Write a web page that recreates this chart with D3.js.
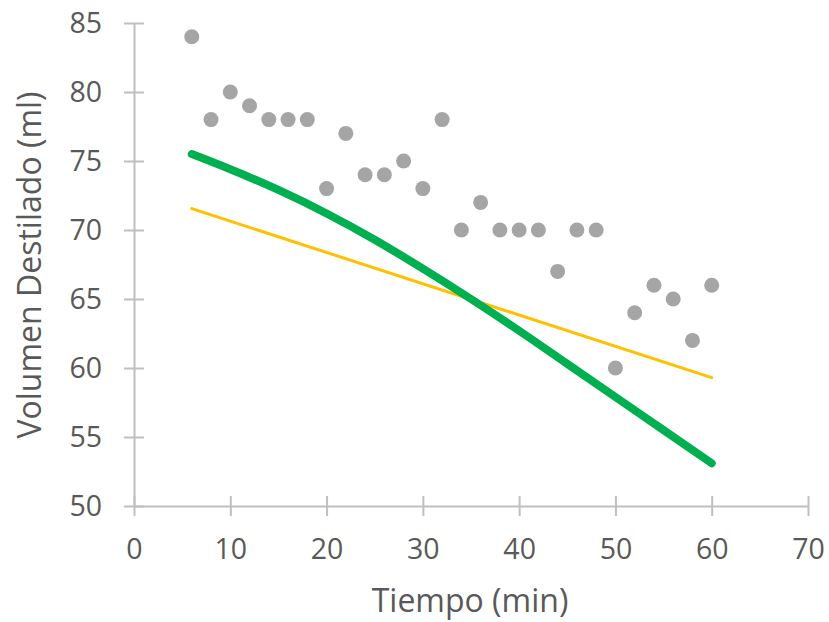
<!DOCTYPE html>
<html>
<head>
<meta charset="utf-8">
<script src="https://cdn.jsdelivr.net/npm/d3@7"></script>
<style>
  body { margin: 0; background: #fff; }
  svg text { font-family: "Open Sans", "Noto Sans", sans-serif; fill: #595959; }
</style>
</head>
<body>
<div class="graphContainer"></div>
<script>
// measured data (tiempo in min, volumen in ml)
var tiempo  = [6, 8, 10, 12, 14, 16, 18, 20, 22, 24, 26, 28, 30, 32, 34, 36, 38, 40, 42, 44, 46, 48, 50, 52, 54, 56, 58, 60];
var volumen = [84, 78, 80, 79, 78, 78, 78, 73, 77, 74, 74, 75, 73, 78, 70, 72, 70, 70, 70, 67, 70, 70, 60, 64, 66, 65, 62, 66];

// green fitted curve
var curvaX = [6, 10, 15, 20, 25, 30, 35, 40, 45, 50, 55, 60];
var curvaY = [75.5, 74.4, 72.9, 71.2, 69.3, 67.2, 65.0, 62.7, 60.3, 57.9, 55.5, 53.1];

// yellow straight trend line
var rectaX = [6, 60];
var rectaY = [71.55, 59.3];

var xTicks = [0, 10, 20, 30, 40, 50, 60, 70];
var yTicks = [50, 55, 60, 65, 70, 75, 80, 85];

function drawChart() {
  var w = 829,
      h = 622;

  var x = d3.scaleLinear().domain([0, 70]).range([134, 808]);
  var y = d3.scaleLinear().domain([50, 85]).range([506, 23]);

  var svg = d3.select(".graphContainer")
    .append("svg")
    .attr("width", w)
    .attr("height", h);

  // axes: excel style crossing ticks
  var axisBottom = d3.axisBottom(x)
    .tickValues(xTicks)
    .tickSizeInner(0)
    .tickSizeOuter(0)
    .tickPadding(33);

  var axisLeft = d3.axisLeft(y)
    .tickValues(yTicks)
    .tickSizeInner(0)
    .tickSizeOuter(0)
    .tickPadding(32);

  var gx = svg.append("g")
    .attr("transform", "translate(0," + y(50) + ")")
    .call(axisBottom);

  var gy = svg.append("g")
    .attr("transform", "translate(" + x(0) + ",0)")
    .call(axisLeft);

  [gx, gy].forEach(function (g) {
    g.select(".domain").attr("stroke", "#bfbfbf").attr("stroke-width", 2);
    g.selectAll("text").attr("font-size", 28.5).attr("fill", "#595959");
  });

  gx.selectAll(".tick line").attr("y1", -10).attr("y2", 10)
    .attr("stroke", "#bfbfbf").attr("stroke-width", 2);
  gy.selectAll(".tick line").attr("x1", -10).attr("x2", 10)
    .attr("stroke", "#bfbfbf").attr("stroke-width", 2);

  // scatter points
  svg.append("g")
    .selectAll("circle")
    .data(tiempo)
    .enter()
      .append("circle")
        .attr("cx", function (d) { return x(d); })
        .attr("cy", function (d, i) { return y(volumen[i]); })
        .attr("r", 7.5)
        .attr("fill", "#a5a5a5");

  // yellow linear trend
  var line = d3.line()
    .x(function (d) { return x(d[0]); })
    .y(function (d) { return y(d[1]); });

  svg.append("path")
    .datum(d3.zip(rectaX, rectaY))
    .attr("d", line)
    .attr("fill", "none")
    .attr("stroke", "#ffc000")
    .attr("stroke-width", 3)
    .attr("stroke-linecap", "round");

  // green curved fit
  svg.append("path")
    .datum(d3.zip(curvaX, curvaY))
    .attr("d", line.curve(d3.curveMonotoneX))
    .attr("fill", "none")
    .attr("stroke", "#00b050")
    .attr("stroke-width", 8)
    .attr("stroke-linecap", "round");

  // axis titles
  svg.append("text")
    .attr("x", 470)
    .attr("y", 612)
    .attr("text-anchor", "middle")
    .attr("font-size", 32)
    .text("Tiempo (min)");

  svg.append("text")
    .attr("transform", "translate(41,265) rotate(-90)")
    .attr("text-anchor", "middle")
    .attr("font-size", 32)
    .text("Volumen Destilado (ml)");
}

drawChart();
</script>
</body>
</html>
